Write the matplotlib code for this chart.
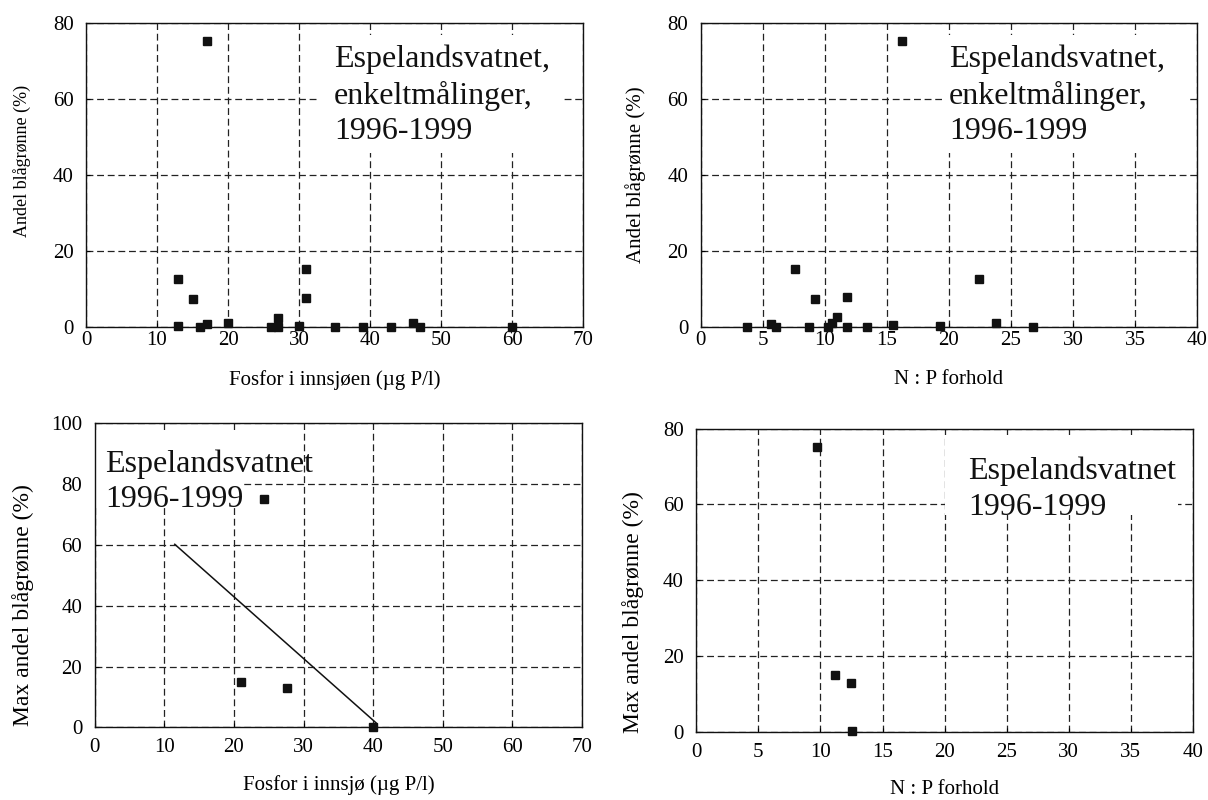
import matplotlib
matplotlib.use('Agg')
import matplotlib.pyplot as plt
from matplotlib.patches import Rectangle

plt.rcParams['font.family'] = ['Liberation Serif', 'DejaVu Serif']

# single measurements, phosphorus vs share of blue-green algae
p_single = [17, 13, 15, 31, 31, 27, 13, 16, 17, 20, 26, 27, 30, 35, 39, 43, 46, 47, 60]
andel_p = [75.3, 12.6, 7.3, 15.2, 7.6, 2.4, 0.2, 0.0, 0.8, 0.9, 0.0, 0.0, 0.3, 0.0, 0.0, 0.0, 0.9, 0.0, 0.0]

# single measurements, N:P ratio
np_single = [16.2, 7.6, 9.2, 11.8, 10.95, 22.4, 3.7, 5.7, 6.1, 8.75, 10.3, 10.55, 11.8, 13.4, 15.5, 19.25, 23.8, 26.8]
andel_np = [75.3, 15.3, 7.4, 7.7, 2.5, 12.6, 0.0, 0.7, 0.0, 0.0, 0.0, 0.9, 0.0, 0.0, 0.35, 0.3, 0.9, 0.0]

# yearly max values
p_max = [24.3, 21.0, 27.6, 40.0]
max_andel_p = [75.0, 14.9, 12.9, 0.2]
np_max = [9.7, 11.2, 12.45, 12.5]
max_andel_np = [75.3, 15.0, 12.9, 0.3]

# trend line, bottom left panel
fit_x = [11.5, 40.4]
fit_y = [60.2, 1.5]

W, H = 1208, 800


def px_axes(fig, left, top, right, bottom):
    return fig.add_axes([left / W, 1 - bottom / H, (right - left) / W, (bottom - top) / H])


def style_axes(ax, xmax, xstep, ymax, ystep, xpad):
    ax.set_xlim(0, xmax)
    ax.set_ylim(0, ymax)
    ax.set_xticks(range(0, xmax + 1, xstep))
    ax.set_yticks(range(0, ymax + 1, ystep))
    ax.set_axisbelow(True)
    ax.grid(True, color='#222222', linestyle=(0, (5.5, 3)), linewidth=0.9)
    ax.tick_params(axis='both', direction='in', length=3, labelsize=15, colors='black')
    ax.tick_params(axis='x', pad=xpad)
    ax.tick_params(axis='y', pad=9)
    for s in ax.spines.values():
        s.set_color('#111111')
        s.set_linewidth(1.0)


def white_box(ax, x0, y0, x1, y1):
    # box given in figure pixels, converted to axes fraction
    bb = ax.get_position()
    fx0 = (x0 / W - bb.x0) / bb.width
    fx1 = (x1 / W - bb.x0) / bb.width
    fy0 = ((1 - y1 / H) - bb.y0) / bb.height
    fy1 = ((1 - y0 / H) - bb.y0) / bb.height
    ax.add_patch(Rectangle((fx0, fy0), fx1 - fx0, fy1 - fy0, transform=ax.transAxes,
                           facecolor='white', edgecolor='none', zorder=1))


fig = plt.figure(figsize=(W / 100, H / 100), dpi=100)

ax1 = px_axes(fig, 86, 22.7, 583, 326.7)
ax2 = px_axes(fig, 700.7, 22.7, 1197, 326.7)
ax3 = px_axes(fig, 94.7, 423.3, 582, 727.3)
ax4 = px_axes(fig, 696.3, 428.7, 1193, 731.7)

style_axes(ax1, 70, 10, 80, 20, 3)
style_axes(ax2, 40, 5, 80, 20, 3)
style_axes(ax3, 70, 10, 100, 20, 8)
style_axes(ax4, 40, 5, 80, 20, 8)

mk = dict(marker='s', linestyle='none', markersize=5.8, color='#111111', clip_on=False, zorder=3)
ax1.plot(p_single, andel_p, **mk)
ax2.plot(np_single, andel_np, **mk)
ax3.plot(p_max, max_andel_p, **mk)
ax3.plot(fit_x, fit_y, color='#111111', linewidth=1.1, zorder=2)
ax4.plot(np_max, max_andel_np, **mk)

white_box(ax1, 318, 35, 563, 153)
white_box(ax2, 942, 35, 1187, 153)
white_box(ax3, 96, 432, 243, 508)
white_box(ax4, 945, 438, 1178, 515)

tkw = dict(fontsize=23, ha='left', va='top', color='#111111', zorder=4, linespacing=1.28)
ax1.text(0.499, 0.927, 'Espelandsvatnet,\nenkeltmålinger,\n1996-1999', transform=ax1.transAxes, **tkw)
ax2.text(0.500, 0.927, 'Espelandsvatnet,\nenkeltmålinger,\n1996-1999', transform=ax2.transAxes, **tkw)
ax3.text(0.021, 0.914, 'Espelandsvatnet\n1996-1999', transform=ax3.transAxes, **tkw)
ax4.text(0.547, 0.907, 'Espelandsvatnet\n1996-1999', transform=ax4.transAxes, **tkw)

ax1.set_xlabel('Fosfor i innsjøen (µg P/l)', fontsize=15)
ax2.set_xlabel('N : P forhold', fontsize=15)
ax3.set_xlabel('Fosfor i innsjø (µg P/l)', fontsize=15)
ax4.set_xlabel('N : P forhold', fontsize=15)
ax1.xaxis.set_label_coords(0.5, -0.174)
ax2.xaxis.set_label_coords(0.5, -0.174)
ax3.xaxis.set_label_coords(0.5, -0.191)
ax4.xaxis.set_label_coords(0.5, -0.192)

ax1.set_ylabel('Andel blågrønne (%)', fontsize=13)
ax2.set_ylabel('Andel blågrønne (%)', fontsize=15)
ax3.set_ylabel('Max andel blågrønne (%)', fontsize=17)
ax4.set_ylabel('Max andel blågrønne (%)', fontsize=17)
ax1.yaxis.set_label_coords(-0.129, 0.545)
ax2.yaxis.set_label_coords(-0.132, 0.499)
ax3.yaxis.set_label_coords(-0.147, 0.402)
ax4.yaxis.set_label_coords(-0.127, 0.396)

for ax in (ax1, ax2, ax3, ax4):
    ax.xaxis.label.set_va('center')
    ax.yaxis.label.set_va('center')

fig.savefig('out.png', dpi=100, facecolor='white')
